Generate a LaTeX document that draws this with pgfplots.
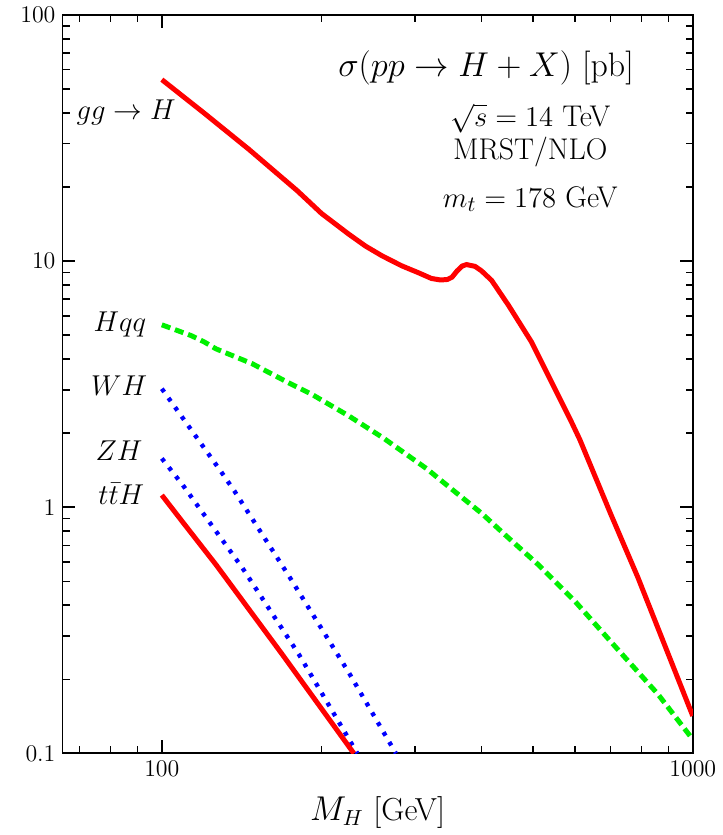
\documentclass[border=0pt]{standalone}
\usepackage{pgfplots}
\pgfplotsset{compat=1.18}
\usetikzlibrary{calc}
\definecolor{cRed}{RGB}{255,0,0}
\definecolor{cGreen}{RGB}{0,240,0}
\definecolor{cBlue}{RGB}{0,0,255}
\tikzset{lbl/.style={anchor=base east,inner sep=0pt,font=\fontsize{13.3}{15}\selectfont},
  info/.style={anchor=base,inner sep=0pt,font=\fontsize{15}{17}\selectfont}}
\begin{document}
\begin{tikzpicture}
\begin{axis}[scale only axis,width=316.2pt,height=370.5pt,
  xmode=log,ymode=log,
  xmin=65,xmax=1000,ymin=0.1,ymax=100,
  axis line style={line width=1pt},
  tick style={line width=0.8pt,black},
  major tick length=6.5pt,minor tick length=3.6pt,
  tick align=inside,
  xtick={100,1000},xticklabels={100,1000},
  minor xtick={70,80,90,200,300,400,500,600,700,800,900},
  ytick={0.1,1,10,100},yticklabels={0.1,1,10,100},
  minor ytick={0.2,0.3,0.4,0.5,0.6,0.7,0.8,0.9,2,3,4,5,6,7,8,9,20,30,40,50,60,70,80,90},
  tick label style={font=\fontsize{12}{14}\selectfont},
  xlabel={$M_H$ [GeV]},
  xlabel style={font=\fontsize{16}{18}\selectfont,yshift=-3pt},
  clip=true]
% gg -> H
\addplot[cRed,line width=2.5pt] coordinates {
 (100,54.6)(120,40.0)(146,28.4)(180,19.3)(200,15.6)(225,12.86)(242,11.5)(260,10.5)
 (283,9.57)(305,8.95)(322,8.5)(335,8.38)(345,8.42)(352,8.6)(360,9.13)(368,9.55)
 (375,9.68)(389,9.52)(400,9.13)(418,8.35)(450,6.6)(497,4.69)(591,2.22)(613,1.88)
 (702,0.93)(788,0.52)(1000,0.142)};
% Hqq
\addplot[cGreen,line width=2.5pt,dash pattern=on 4.5pt off 2.5pt] coordinates {
 (100,5.51)(113.6,4.98)(120.3,4.69)(126.5,4.40)(148,3.83)(173,3.21)(192,2.87)
 (225,2.35)(261,1.915)(316,1.43)(332,1.31)(400,0.946)(443,0.773)(512,0.584)
 (600,0.415)(713,0.273)(860,0.174)(1000,0.114)};
% WH
\addplot[cBlue,line width=2.2pt,dash pattern=on 2pt off 3.7pt] coordinates {
 (100,3.03)(129.3,1.395)(137,1.164)(173.7,0.524)(225,0.213)(276,0.1)};
% ZH
\addplot[cBlue,line width=2.2pt,dash pattern=on 2pt off 3.7pt] coordinates {
 (100,1.579)(109.5,1.231)(141.9,0.566)(181.3,0.252)(233.5,0.1)};
% ttH
\addplot[cRed,line width=2.5pt] coordinates {
 (100,1.12)(109.5,0.87)(126.5,0.584)(168.7,0.252)(230,0.1)};
\node[lbl] at (axis cs:106.4,37.6) {$gg\to H$};
\node[lbl] at (axis cs:93.6,5.16) {$Hqq$};
\node[lbl] at (axis cs:94.0,2.85) {$WH$};
\node[lbl] at (axis cs:92.1,1.554) {$ZH$};
\node[lbl] at (axis cs:92.8,1.028) {$t\bar{t}H$};
\node[anchor=base,inner sep=0pt,font=\fontsize{17}{19}\selectfont] at (axis cs:408,56.3) {$\sigma(pp\to H+X)$ [pb]};
\node[info] at (axis cs:494.3,35.3) {$\sqrt{s}=14$ TeV};
\node[info] at (axis cs:494.3,25.9) {MRST/NLO};
\node[info] at (axis cs:494.3,16.5) {$m_t=178$ GeV};
\end{axis}
\path ($(current axis.south west)+(-31.35pt,-39.5pt)$) rectangle ($(current axis.north east)+(15pt,7.5pt)$);
\end{tikzpicture}
\end{document}
